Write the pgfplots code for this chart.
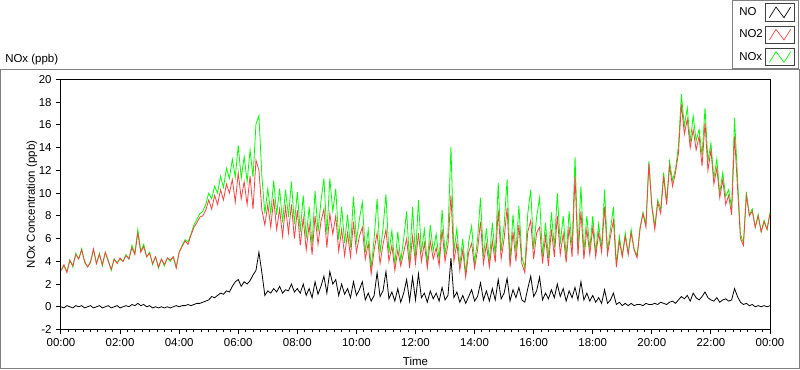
\documentclass[border=0pt]{standalone}
\usepackage{fontspec}
\setmainfont{Liberation Sans}
\usepackage{pgfplots}
\usepackage{pgfplotstable}
\pgfplotsset{compat=1.18}
\definecolor{noxgreen}{RGB}{0,255,0}
\definecolor{notwored}{RGB}{255,64,64}
\definecolor{framegray}{RGB}{128,128,128}
\pgfplotstableread{
t no2 no nox
0.0 3.2 0.0 3.2
0.1 3.7 -0.1 3.6
0.2 3.0 0.1 3.1
0.3 4.1 0.0 4.1
0.4 3.6 -0.1 3.5
0.5 4.6 0.1 4.7
0.6 4.2 0.0 4.2
0.7 5.0 0.1 5.1
0.8 4.0 -0.1 3.9
0.9 3.5 0.0 3.5
1.0 3.9 0.1 4.0
1.1 5.1 -0.1 5.0
1.2 3.8 0.0 3.8
1.3 4.6 0.1 4.7
1.4 3.7 -0.1 3.6
1.5 4.8 0.0 4.8
1.6 4.0 0.1 4.1
1.7 3.3 -0.1 3.2
1.8 4.2 0.0 4.2
1.9 3.8 0.1 3.9
2.0 4.3 -0.1 4.2
2.1 4.0 0.0 4.0
2.2 4.5 0.1 4.6
2.3 4.2 0.0 4.2
2.4 5.2 0.2 5.4
2.5 4.6 0.1 4.7
2.6 6.5 0.3 6.8
2.7 4.8 0.1 4.9
2.8 5.3 0.2 5.5
2.9 4.4 0.0 4.4
3.0 4.7 0.1 4.8
3.1 3.8 -0.1 3.7
3.2 4.4 0.0 4.4
3.3 3.5 -0.1 3.4
3.4 4.2 0.0 4.2
3.5 3.7 -0.1 3.6
3.6 4.3 0.0 4.3
3.7 4.1 -0.1 4.0
3.8 4.4 0.0 4.4
3.9 3.4 0.1 3.5
4.0 4.8 0.0 4.8
4.1 5.3 0.1 5.4
4.2 5.8 0.1 5.9
4.3 5.5 0.2 5.7
4.4 6.3 0.1 6.4
4.5 7.0 0.2 7.2
4.6 7.4 0.3 7.7
4.7 7.9 0.3 8.2
4.8 8.0 0.4 8.4
4.9 8.5 0.5 9.0
5.0 9.4 0.6 10.0
5.1 8.6 0.9 9.5
5.2 9.8 0.8 10.6
5.3 9.0 1.0 10.0
5.4 10.3 1.2 11.5
5.5 9.4 1.1 10.5
5.6 10.8 1.4 12.2
5.7 10.0 1.3 11.3
5.8 11.2 1.8 13.0
5.9 9.2 2.2 11.4
6.0 11.8 2.4 14.2
6.1 9.5 1.8 11.3
6.2 11.0 2.2 13.2
6.3 9.0 2.0 11.0
6.4 11.5 2.3 13.8
6.5 8.6 2.8 11.4
6.6 12.9 3.2 16.1
6.7 12.0 4.8 16.8
6.8 8.5 3.0 11.5
6.9 7.2 1.0 8.2
7.0 9.0 1.4 10.4
7.1 7.0 1.2 8.2
7.2 9.5 1.6 11.1
7.3 6.8 1.3 8.1
7.4 8.6 1.8 10.4
7.5 6.2 1.2 7.4
7.6 8.8 1.5 10.3
7.7 6.5 1.4 7.9
7.8 9.0 2.0 11.0
7.9 6.0 1.3 7.3
8.0 8.5 1.6 10.1
8.1 5.4 1.2 6.6
8.2 7.8 2.0 9.8
8.3 5.0 1.0 6.0
8.4 7.2 1.6 8.8
8.5 4.6 0.8 5.4
8.6 8.0 2.2 10.2
8.7 5.5 1.1 6.6
8.8 7.5 1.8 9.3
8.9 8.6 2.7 11.3
9.0 5.2 1.2 6.4
9.1 8.2 3.1 11.3
9.2 6.4 2.0 8.4
9.3 8.0 2.4 10.4
9.4 4.9 1.0 5.9
9.5 6.8 2.0 8.8
9.6 4.5 1.1 5.6
9.7 6.5 1.6 8.1
9.8 4.4 0.8 5.2
9.9 7.5 2.2 9.7
10.0 4.8 1.0 5.8
10.1 6.2 1.5 7.7
10.2 7.0 2.2 9.2
10.3 4.2 0.6 4.8
10.4 5.6 1.2 6.8
10.5 2.9 0.5 3.4
10.6 5.0 1.0 6.0
10.7 6.5 3.0 9.5
10.8 3.8 0.9 4.7
10.9 5.5 1.4 6.9
11.0 6.8 3.1 9.9
11.1 4.0 0.7 4.7
11.2 5.4 1.3 6.7
11.3 3.2 0.5 3.7
11.4 5.0 1.6 6.6
11.5 3.6 0.4 4.0
11.6 4.8 1.2 6.0
11.7 6.0 2.4 8.4
11.8 3.4 0.5 3.9
11.9 6.2 2.6 8.8
12.0 3.8 0.6 4.4
12.1 6.5 2.9 9.4
12.2 4.0 0.8 4.8
12.3 5.6 1.2 6.8
12.4 3.4 0.4 3.8
12.5 5.8 1.4 7.2
12.6 4.2 0.7 4.9
12.7 5.2 1.2 6.4
12.8 3.6 0.5 4.1
12.9 6.8 1.7 8.5
13.0 4.0 0.6 4.6
13.1 5.5 1.0 6.5
13.2 9.8 4.3 14.1
13.3 4.0 0.8 4.8
13.4 5.6 1.3 6.9
13.5 3.2 0.4 3.6
13.6 5.0 1.0 6.0
13.7 2.6 0.3 2.9
13.8 4.8 0.9 5.7
13.9 5.6 1.5 7.1
14.0 3.4 0.5 3.9
14.1 5.0 0.9 5.9
14.2 7.5 2.1 9.6
14.3 3.8 0.6 4.4
14.4 5.5 1.4 6.9
14.5 3.5 0.5 4.0
14.6 5.8 1.6 7.4
14.7 3.9 0.6 4.5
14.8 8.5 2.4 10.9
14.9 4.2 0.7 4.9
15.0 6.0 1.2 7.2
15.1 8.7 2.5 11.2
15.2 3.5 0.5 4.0
15.3 6.6 1.5 8.1
15.4 4.0 0.8 4.8
15.5 7.2 1.7 8.9
15.6 3.8 0.6 4.4
15.7 3.0 0.4 3.4
15.8 6.6 1.6 8.2
15.9 7.6 2.7 10.3
16.0 4.2 0.9 5.1
16.1 6.5 1.4 7.9
16.2 7.0 2.6 9.6
16.3 3.8 0.6 4.4
16.4 6.2 1.2 7.4
16.5 3.6 0.7 4.3
16.6 6.8 1.5 8.3
16.7 4.4 0.8 5.2
16.8 8.0 2.0 10.0
16.9 4.6 0.9 5.5
17.0 6.4 1.6 8.0
17.1 3.9 0.5 4.4
17.2 7.0 1.4 8.4
17.3 4.4 0.8 5.2
17.4 11.5 1.7 13.2
17.5 4.5 0.6 5.1
17.6 8.4 2.2 10.6
17.7 4.2 0.6 4.8
17.8 6.8 1.2 8.0
17.9 4.6 0.5 5.1
18.0 7.0 1.0 8.0
18.1 4.4 0.4 4.8
18.2 6.5 0.8 7.3
18.3 4.8 0.3 5.1
18.4 8.8 1.5 10.3
18.5 4.6 0.3 4.9
18.6 6.2 0.6 6.8
18.7 7.6 1.2 8.8
18.8 3.5 0.2 3.7
18.9 5.8 0.4 6.2
19.0 4.4 0.1 4.5
19.1 6.2 0.3 6.5
19.2 4.6 0.1 4.7
19.3 6.5 0.3 6.8
19.4 5.0 0.1 5.1
19.5 4.3 0.2 4.5
19.6 6.8 0.2 7.0
19.7 8.2 0.1 8.3
19.8 7.0 0.3 7.3
19.9 12.6 0.2 12.8
20.0 8.8 0.2 9.0
20.1 6.8 0.3 7.1
20.2 9.2 0.2 9.4
20.3 8.2 0.4 8.6
20.4 11.5 0.3 11.8
20.5 9.0 0.2 9.2
20.6 12.4 0.4 12.8
20.7 10.6 0.5 11.1
20.8 11.8 0.3 12.1
20.9 13.5 0.6 14.1
21.0 17.8 0.9 18.7
21.1 15.2 0.7 15.9
21.2 16.5 1.0 17.5
21.3 14.0 0.5 14.5
21.4 15.6 1.2 16.8
21.5 13.8 0.8 14.6
21.6 15.0 0.6 15.6
21.7 12.4 0.9 13.3
21.8 16.2 1.3 17.5
21.9 12.0 0.8 12.8
22.0 13.8 0.6 14.4
22.1 10.8 0.5 11.3
22.2 12.2 0.8 13.0
22.3 9.6 0.4 10.0
22.4 11.2 0.6 11.8
22.5 9.0 0.7 9.7
22.6 9.8 0.5 10.3
22.7 8.1 0.6 8.7
22.8 15.0 1.6 16.6
22.9 10.5 0.9 11.4
23.0 6.0 0.4 6.4
23.1 5.4 0.2 5.6
23.2 9.8 0.3 10.1
23.3 8.0 0.1 8.1
23.4 8.4 0.2 8.6
23.5 7.0 0.0 7.0
23.6 8.0 0.1 8.1
23.7 6.6 0.0 6.6
23.8 7.5 0.1 7.6
23.9 6.8 0.0 6.8
24.0 8.2 0.1 8.3
}\datatab
\begin{document}
\begin{tikzpicture}[x=1pt,y=1pt]
\useasboundingbox[fill=white] (0,0) rectangle (600,276.75);
\draw[framegray, line width=0.75pt] (0.375,0.375) rectangle (599.625,225);
\node[anchor=base west, font=\fontsize{8.6}{10}\selectfont, inner sep=0pt] at (3.75,230) {NOx (ppb)};
\begin{axis}[
  at={(45.75pt,29.625pt)}, anchor=south west,
  scale only axis, width=531.75pt, height=187.5pt,
  xmin=0, xmax=24, ymin=-2, ymax=20,
  xtick={0,2,...,24},
  xticklabels={00:00,02:00,04:00,06:00,08:00,10:00,12:00,14:00,16:00,18:00,20:00,22:00,00:00},
  minor x tick num=7,
  ytick={-2,0,...,20},
  xtick pos=left, ytick pos=left,
  tick align=outside,
  major tick length=3.5pt, minor tick length=2.2pt,
  every tick/.style={black, line width=0.75pt},
  axis line style={black, line width=0.75pt},
  /pgf/number format/assume math mode=true,
  tick label style={font=\fontsize{8.6}{10}\selectfont},
  label style={font=\fontsize{8.6}{10}\selectfont},
  xlabel={Time},
  ylabel={NOx Concentration (ppb)},
  xlabel style={at={(axis description cs:0.5,-0.126)}, anchor=center},
  ylabel style={at={(axis description cs:-0.041,0.5)}, anchor=center},
  legend plot pos=right,
  reverse legend,
  legend style={at={(axis description cs:1.0409,1.318)}, anchor=north east,
    draw=framegray, line width=0.75pt, fill=white,
    font=\fontsize{8.6}{10}\selectfont,
    inner xsep=3pt, inner ysep=2pt, row sep=3pt,
    cells={anchor=west}},
  legend image code/.code={
    \draw[draw=black!75, fill=white, line width=0.75pt] (0pt,-6.5pt) rectangle (21pt,6.5pt);
    \draw[#1, line width=0.5pt] (2.5pt,-4pt) -- (7.5pt,4pt) -- (13.5pt,-4pt) -- (18.5pt,4pt);
  },
]
\addplot[noxgreen, line width=0.6pt] table[x=t, y=nox]{\datatab};
\addlegendentry{NOx}
\addplot[notwored, line width=0.6pt] table[x=t, y=no2]{\datatab};
\addlegendentry{NO2}
\addplot[black, line width=0.6pt] table[x=t, y=no]{\datatab};
\addlegendentry{NO}
\end{axis}
\end{tikzpicture}
\end{document}
